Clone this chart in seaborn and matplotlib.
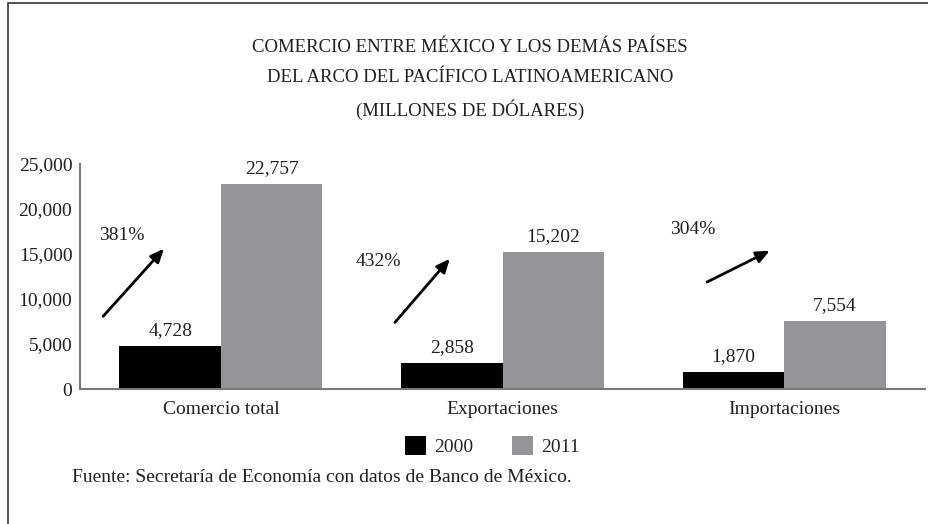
import pandas as pd
import matplotlib.pyplot as plt
import seaborn as sns
from matplotlib.patches import Rectangle

sns.set_style("white")
plt.rcParams['font.family'] = ['Liberation Serif', 'DejaVu Serif']

# datos (millones de dolares)
categorias = ['Comercio total', 'Exportaciones', 'Importaciones']
v2000 = [4728, 2858, 1870]
v2011 = [22757, 15202, 7554]
anios = ['2000', '2011']
colores = ['#000000', '#939598']

titulo = ['COMERCIO ENTRE MÉXICO Y LOS DEMÁS PAÍSES',
          'DEL ARCO DEL PACÍFICO LATINOAMERICANO',
          '(MILLONES DE DÓLARES)']

# flechas de crecimiento (cola, punta, texto) en coordenadas de datos
flecha_cola = [(-0.418, 8072), (0.618, 7399), (1.726, 11883)]
flecha_punta = [(-0.202, 15583), (0.813, 14462), (1.949, 15359)]
texto_pos = [(-0.351, 17040), (0.561, 14126), (1.676, 17713)]

df = pd.DataFrame({
    'categoria': categorias * 2,
    'anio': [anios[0]] * 3 + [anios[1]] * 3,
    'valor': v2000 + v2011,
})

fig = plt.figure(figsize=(9.29, 5.24), dpi=100)
ax = fig.add_axes([80 / 929, 135 / 524, 845 / 929, 225 / 524])

sns.barplot(data=df, x='categoria', y='valor', hue='anio', palette=colores,
            width=0.72, saturation=1, linewidth=0, ax=ax)

ax.set_xlim(-0.5, 2.5)
ax.set_ylim(0, 25000)
ax.set_yticks(range(0, 25001, 5000))
ax.yaxis.set_major_formatter('{x:,.0f}')
ax.set_xlabel('')
ax.set_ylabel('')
ax.tick_params(axis='y', length=0, pad=5.5, labelsize=14, labelcolor='#231f20')
ax.tick_params(axis='x', length=0, pad=9, labelsize=14, labelcolor='#231f20')
for s in ['top', 'right']:
    ax.spines[s].set_visible(False)
for s in ['left', 'bottom']:
    ax.spines[s].set_color('#7a7a7a')
    ax.spines[s].set_linewidth(1.5)

for cont in ax.containers:
    ax.bar_label(cont, labels=[f'{b.get_height():,.0f}' for b in cont],
                 padding=5, fontsize=14, color='#231f20')

# porcentajes de crecimiento
for i in range(3):
    pct = (v2011[i] / v2000[i] - 1) * 100
    ax.annotate('', xy=flecha_punta[i], xytext=flecha_cola[i],
                arrowprops=dict(arrowstyle='-|>,head_length=0.8,head_width=0.35',
                                color='black', lw=2, shrinkA=0, shrinkB=0))
    ax.text(texto_pos[i][0], texto_pos[i][1], f'{pct:.0f}%', ha='center',
            va='center', fontsize=14, color='#231f20')

handles, labels = ax.get_legend_handles_labels()
ax.get_legend().remove()
fig.legend(handles, labels, loc='center', bbox_to_anchor=(492 / 929, 1 - 446 / 524),
           ncol=2, frameon=False, fontsize=14, handlelength=1.1, handleheight=1.1,
           handletextpad=0.4, columnspacing=2.0)

for linea, y in zip(titulo, [47, 78, 110]):
    fig.text(470 / 929, 1 - y / 524, linea, ha='center', va='center',
             fontsize=13.5, color='#231f20')

fig.text(72 / 929, 1 - 478 / 524,
         'Fuente: Secretaría de Economía con datos de Banco de México.',
         ha='left', va='center', fontsize=14, color='#231f20')

# marco exterior
fig.add_artist(Rectangle((8 / 929, -0.1), 1.2, 1.1 - 3 / 524, transform=fig.transFigure,
                         fill=False, ec='#333333', lw=1.2))

fig.savefig('out.png', dpi=100)
